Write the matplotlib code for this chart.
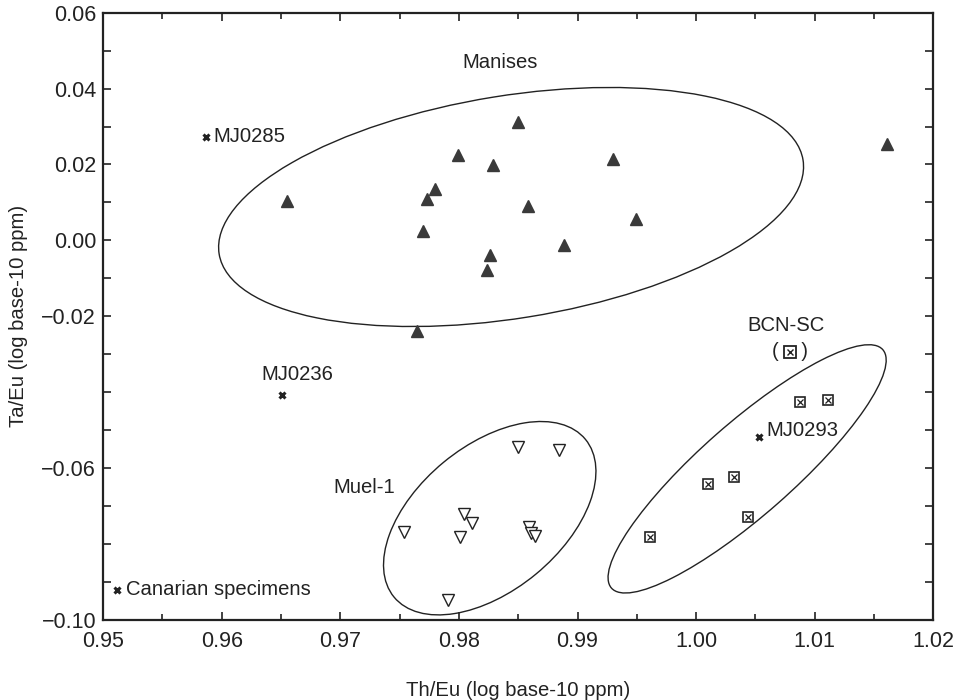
import numpy as np
import matplotlib
matplotlib.use('Agg')
import matplotlib.pyplot as plt
from matplotlib.patches import Ellipse
from matplotlib import transforms

plt.rcParams['font.family'] = ['Liberation Sans', 'DejaVu Sans']

# Manises samples (filled triangles)
man_x = [0.9850, 0.9799, 0.9829, 0.9930, 0.9780, 0.9773, 0.9655, 0.9858,
         0.9949, 0.9770, 0.9889, 0.9826, 0.9824, 0.9765, 1.0161]
man_y = [0.0313, 0.0225, 0.0199, 0.0214, 0.0135, 0.0108, 0.0105, 0.0091,
         0.0056, 0.0025, -0.0013, -0.0038, -0.0078, -0.0239, 0.0254]

# Muel-1 samples (open inverted triangles)
muel_x = [0.9850, 0.9884, 0.9804, 0.9811, 0.9754, 0.9801, 0.9859, 0.9861,
          0.9864, 0.9791]
muel_y = [-0.0544, -0.0552, -0.0721, -0.0744, -0.0768, -0.0781, -0.0754,
          -0.0770, -0.0779, -0.0948]

# BCN-SC samples (crossed squares)
bcn_x = [1.0088, 1.0111, 1.0032, 1.0010, 1.0044, 0.9961]
bcn_y = [-0.0425, -0.0421, -0.0623, -0.0642, -0.0729, -0.0782]

# Canarian specimens (crosses)
can_names = ['MJ0285', 'MJ0236', 'MJ0293', 'Canarian specimens']
can_x = [0.9587, 0.9651, 1.0053, 0.9512]
can_y = [0.0273, -0.0407, -0.0519, -0.0921]

# group ellipses: centre (data), semi-axes (inches), angle (deg)
ell_names = ['Manises', 'Muel-1', 'BCN-SC']
ell_cx = [0.9844, 0.9826, 1.0043]
ell_cy = [0.0088, -0.0732, -0.0602]
ell_a = [2.957, 1.24, 1.806]
ell_b = [1.113, 0.725, 0.462]
ell_ang = [9.15, 39.5, 41.3]

yticks = np.round(np.arange(-0.10, 0.061, 0.01), 2)
ylabs = {0.06: '0.06', 0.04: '0.04', 0.02: '0.02', 0.0: '0.00',
         -0.02: '\u22120.02', -0.06: '\u22120.06', -0.1: '\u22120.10'}

fig = plt.figure(figsize=(9.56, 7.0), dpi=100)
ax = fig.add_axes([0.1078, 0.1144, 0.8685, 0.8675])

ink = '#222222'

for cx, cy, a, b, ang in zip(ell_cx, ell_cy, ell_a, ell_b, ell_ang):
    tr = fig.dpi_scale_trans + transforms.ScaledTranslation(cx, cy, ax.transData)
    e = Ellipse((0, 0), 2 * a, 2 * b, angle=ang, transform=tr,
                fill=False, ec=ink, lw=1.0)
    ax.add_patch(e)

ax.plot(man_x, man_y, '^', ms=8.5, mfc='#3a3a3a', mec='#3a3a3a', ls='none')
ax.plot(muel_x, muel_y, 'v', ms=8.5, mfc='white', mec=ink, mew=1.0, ls='none')
ax.plot(bcn_x, bcn_y, 's', ms=7, mfc='white', mec=ink, mew=1.2, ls='none')
ax.plot(bcn_x, bcn_y, 'x', ms=4.5, mec=ink, mew=0.9, ls='none')
ax.plot(can_x, can_y, 'x', ms=5, mec=ink, mew=2.2, ls='none')

# labels for the crosses
offs = [(5, 0, 'left'), (11, 15, 'center'), (5, 5, 'left'), (6, 0, 'left')]
for nm, x, y, (dx, dy, ha) in zip(can_names, can_x, can_y, offs):
    ax.annotate(nm, (x, y), xytext=(dx, dy), textcoords='offset points',
                ha=ha, va='center', fontsize=14.6, color=ink)

# group labels
ax.text(0.9835, 0.0470, 'Manises', ha='center', va='center', fontsize=14.6, color=ink)
ax.text(0.9720, -0.0650, 'Muel-1', ha='center', va='center', fontsize=14.6, color=ink)
ax.text(1.0076, -0.0223, 'BCN-SC', ha='center', va='center', fontsize=14.6, color=ink)
ax.text(1.0079, -0.0293, '(    )', ha='center', va='center', fontsize=14.6, color=ink)
ax.plot([1.0079], [-0.0293], 's', ms=8, mfc='white', mec=ink, mew=1.3)
ax.plot([1.0079], [-0.0293], 'x', ms=5, mec=ink, mew=1.0)

ax.set_xlim(0.95, 1.02)
ax.set_ylim(-0.10, 0.06)
ax.set_xticks(np.round(np.arange(0.95, 1.0201, 0.01), 2))
ax.set_xticks(np.arange(0.955, 1.02, 0.01), minor=True)
ax.set_xticklabels(['%.2f' % v for v in np.arange(0.95, 1.0201, 0.01)])
ax.set_yticks(yticks)
ax.set_yticklabels([ylabs.get(float(v), '') for v in yticks])

ax.tick_params(which='both', direction='in', top=True, right=True,
               labelsize=15.5, colors=ink, width=1.2)
ax.tick_params(which='major', length=5.5)
ax.tick_params(axis='x', pad=8)
ax.tick_params(axis='y', pad=5)
ax.tick_params(which='minor', length=4)
for s in ax.spines.values():
    s.set_linewidth(1.6)
    s.set_color(ink)

ax.set_xlabel('Th/Eu (log base-10 ppm)', fontsize=14.6, color=ink)
ax.set_ylabel('Ta/Eu (log base-10 ppm)', fontsize=14.6, color=ink)
ax.xaxis.set_label_coords(0.5, -0.10)
ax.yaxis.set_label_coords(-0.090, 0.5)

fig.savefig('out.png', dpi=100)
